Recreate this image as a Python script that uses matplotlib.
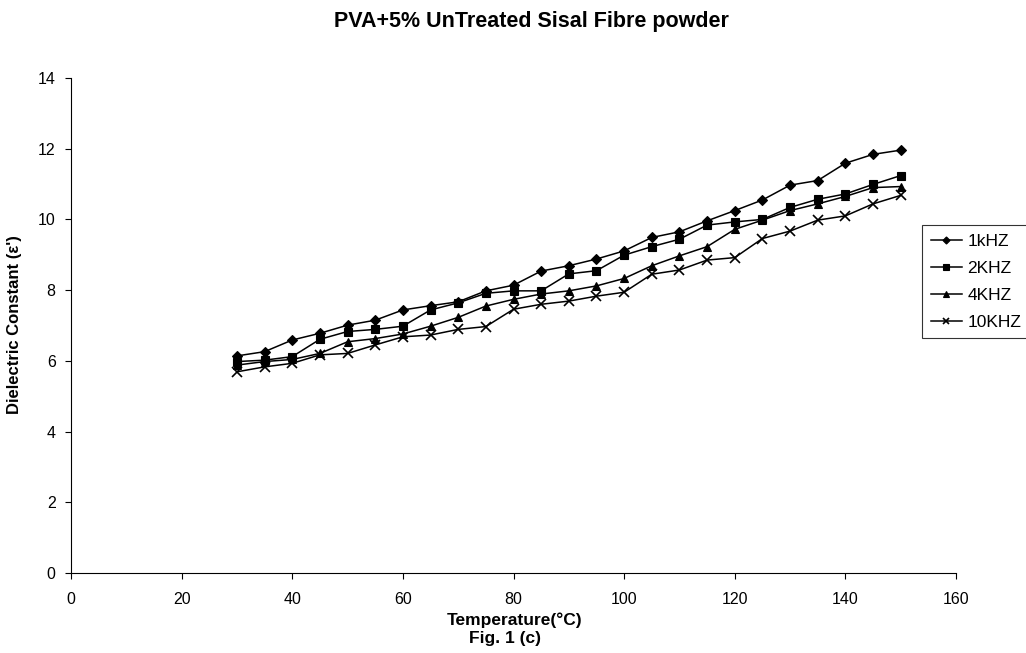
import numpy as np
import matplotlib
matplotlib.use("Agg")
import matplotlib.pyplot as plt

plt.rcParams['font.family'] = ['Liberation Sans', 'DejaVu Sans']

# temperature steps (°C)
temperature = [30, 35, 40, 45, 50, 55, 60, 65, 70, 75, 80, 85, 90,
               95, 100, 105, 110, 115, 120, 125, 130, 135, 140, 145, 150]

# dielectric constant
eps_1k = [6.14, 6.26, 6.59, 6.78, 7.01, 7.15, 7.44, 7.56, 7.67, 7.98, 8.14, 8.54, 8.69,
          8.88, 9.11, 9.49, 9.65, 9.96, 10.25, 10.55, 10.97, 11.10, 11.59, 11.84, 11.96]
eps_2k = [5.98, 6.02, 6.12, 6.61, 6.83, 6.89, 6.98, 7.44, 7.64, 7.91, 7.98, 7.98, 8.46,
          8.55, 8.99, 9.23, 9.44, 9.84, 9.93, 10.00, 10.34, 10.57, 10.72, 10.99, 11.24]
eps_4k = [5.88, 5.98, 6.04, 6.21, 6.54, 6.63, 6.76, 6.98, 7.23, 7.55, 7.74, 7.89, 7.98,
          8.12, 8.33, 8.69, 8.97, 9.23, 9.72, 9.98, 10.25, 10.44, 10.65, 10.90, 10.93]
eps_10k = [5.69, 5.83, 5.93, 6.17, 6.21, 6.45, 6.68, 6.73, 6.89, 6.97, 7.46, 7.60, 7.69,
           7.83, 7.94, 8.45, 8.57, 8.85, 8.92, 9.46, 9.67, 9.98, 10.10, 10.44, 10.68]

series = [
    ("1kHZ", eps_1k, "D", 4.8),
    ("2KHZ", eps_2k, "s", 5.8),
    ("4KHZ", eps_4k, "^", 6.2),
    ("10KHZ", eps_10k, "x", 6.5),
]

W, H = 1026, 653
fig = plt.figure(figsize=(W / 100, H / 100), dpi=100)
ax = fig.add_axes([71 / W, 1 - 573 / H, (956 - 71) / W, (573 - 78) / H])

for name, vals, mk, ms in series:
    ax.plot(temperature, vals, color="black", linewidth=1.1, marker=mk,
            markersize=ms, markeredgewidth=1.2 if mk == "x" else 0.8, label=name)

ax.set_xlim(0, 160)
ax.set_ylim(0, 14)
ax.set_xticks(np.arange(0, 161, 20))
ax.set_yticks(np.arange(0, 15, 2))
ax.tick_params(direction="out", length=4, labelsize=11.5, width=0.8)
ax.tick_params(axis="x", pad=10)
ax.tick_params(axis="y", pad=7)
for s in ["top", "right"]:
    ax.spines[s].set_visible(False)
for s in ["left", "bottom"]:
    ax.spines[s].set_linewidth(0.8)

# labels placed in figure pixels
fig.text(531 / W, 1 - 22 / H, "PVA+5% UnTreated Sisal Fibre powder", ha="center", va="center",
         fontsize=15.5, fontweight="bold")
fig.text(515 / W, 1 - 620 / H, "Temperature(°C)", ha="center", va="center",
         fontsize=12.5, fontweight="bold")
fig.text(505 / W, 1 - 638 / H, "Fig. 1 (c)", ha="center", va="center",
         fontsize=12.5, fontweight="bold")
fig.text(15 / W, 1 - 325 / H, "Dielectric Constant (ε')", ha="center", va="center",
         rotation=90, fontsize=12, fontweight="bold")

leg = ax.legend(loc="upper left", bbox_to_anchor=(922 / W, 1 - 225 / H),
                bbox_transform=fig.transFigure, frameon=True, fancybox=False,
                edgecolor="black", fontsize=12.5, handlelength=1.8, handletextpad=0.3,
                borderpad=0.5, labelspacing=0.68, borderaxespad=0, markerscale=0.75)
leg.get_frame().set_linewidth(0.8)

fig.savefig("out.png", dpi=100)
